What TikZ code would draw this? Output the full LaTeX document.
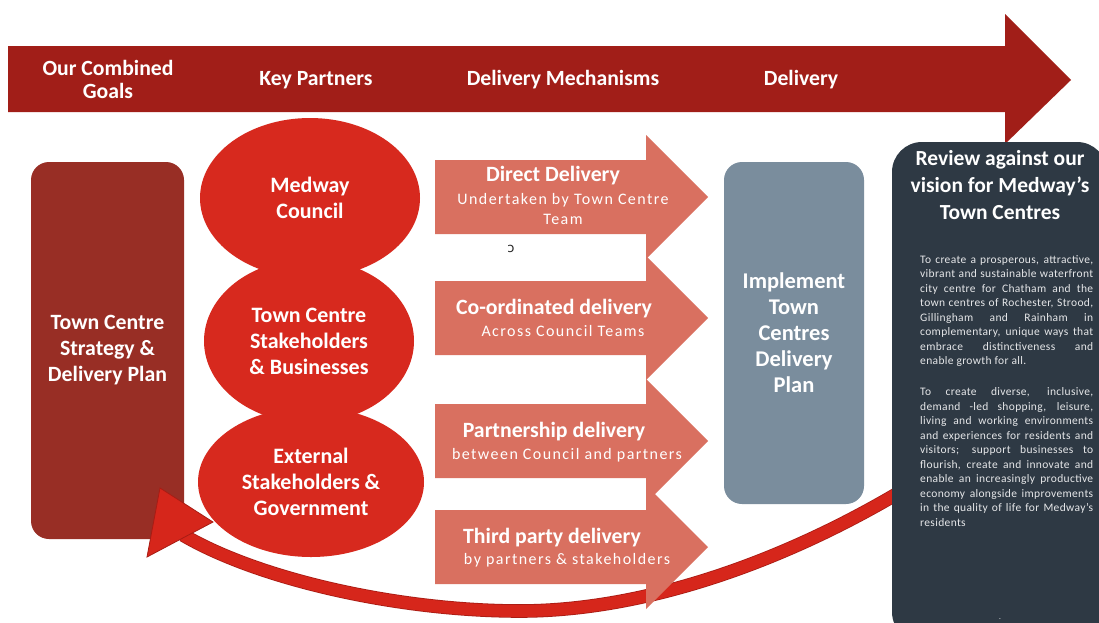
\documentclass[tikz,border=0pt]{standalone}
\usepackage{fontspec}
\setmainfont{Carlito}
\newfontfamily\spacedfont[LetterSpace=9]{Carlito}
\newfontfamily\visionfont[LetterSpace=3]{Carlito}
\newfontfamily\symbolfont{DejaVu Sans}
\usetikzlibrary{shapes.geometric, positioning}

\definecolor{bannerred}{RGB}{161,30,24}
\definecolor{goalred}{RGB}{152,46,37}
\definecolor{partnerred}{RGB}{215,41,30}
\definecolor{mechpink}{RGB}{217,112,96}
\definecolor{planblue}{RGB}{122,141,157}
\definecolor{reviewslate}{RGB}{46,57,68}
\definecolor{loopred}{RGB}{214,38,27}
\definecolor{loopedge}{RGB}{168,28,20}

% one line of the justified vision text
\newcommand{\jline}[1]{\makebox[173pt][s]{#1}}

\begin{document}
\begin{tikzpicture}[x=1pt, y=-1pt,
  header/.style={text=white, align=center, font=\fontsize{21.7}{23}\selectfont\bfseries},
  partner/.style={ellipse, fill=partnerred, inner sep=0pt, text=white, align=center,
                  font=\fontsize{22}{26}\selectfont\bfseries},
  panel/.style={rounded corners=18pt, inner sep=0pt, text=white, align=center,
                font=\fontsize{21.8}{26}\selectfont\bfseries},
  mechtitle/.style={text=white, inner sep=0pt, font=\fontsize{21.8}{24}\selectfont\bfseries},
  mechsub/.style={text=white, inner sep=0pt, align=center,
                  font=\spacedfont\fontsize{16}{20}\selectfont},
  loopband/.style={draw=loopedge, line width=0.8pt, double=loopred, double distance=12pt}]

  \fill[white] (0,0) rectangle (1099,622);
  \useasboundingbox (0,0) rectangle (1099,622);

  % banner arrow with the column headings
  \fill[bannerred] (8,46) -- (1005,46) -- (1005,14) -- (1071,80) -- (1005,144)
                   -- (1005,112) -- (8,112) -- cycle;
  \node[header] (goalshead)    at (108,79) {Our Combined\\Goals};
  \node[header] (partnerhead)  at (316,80) {Key Partners};
  \node[header] (mechhead)     at (563,80) {Delivery Mechanisms};
  \node[header] (deliveryhead) at (801,80) {Delivery};

  % goals
  \node[panel, fill=goalred, minimum width=153pt, minimum height=377pt]
       (strategy) at (107.5,350.5) {Town Centre\\Strategy \&\\Delivery Plan};

  % feedback loop back to the goals
  \coordinate (loopstart)  at (910,486);
  \coordinate (loopbottom) at (520,611);
  \coordinate (loopend)    at (183,535);
  \draw[loopband] (loopstart) .. controls (780,565) and (640,611) .. (loopbottom)
                  .. controls (400,611) and (260,580) .. (loopend);
  \filldraw[fill=loopred, draw=loopedge, line width=0.8pt]
       (147,557) -- (160,488) -- (213,522) -- cycle;

  % key partners
  \node[partner, minimum width=220pt, minimum height=160pt] (council)  at (310,198) {Medway\\Council};
  \node[partner, minimum width=210pt, minimum height=164pt] (business) at (309,341) {Town Centre\\Stakeholders\\\& Businesses};
  \node[partner, minimum width=226pt, minimum height=150pt] (external) at (311,482) {External\\Stakeholders \&\\Government};

  % delivery mechanisms
  \foreach \y in {197,318,441,547}
    \fill[mechpink] (435,\y-37) -- (646,\y-37) -- (646,\y-62) -- (708,\y)
                    -- (646,\y+62) -- (646,\y+37) -- (435,\y+37) -- cycle;

  \node[mechtitle] (direct) at (553,176) {Direct Delivery};
  \node[mechsub]   (directsub) at (563,209) {Undertaken by Town Centre\\Team};
  \node[mechtitle] (coord) at (554,309) {Co-ordinated delivery};
  \node[mechsub]   (coordsub) at (563,331) {Across Council Teams};
  \node[mechtitle] (partnership) at (554,432) {Partnership delivery};
  \node[mechsub]   (partnershipsub) at (567,455) {between Council and partners};
  \node[mechtitle] (thirdparty) at (552,538) {Third party delivery};
  \node[mechsub]   (thirdpartysub) at (567,560) {by partners \& stakeholders};
  \node[text=black!85, font=\symbolfont\fontsize{13}{14}\selectfont] (stray) at (511,249) {ɔ};

  % delivery
  \node[panel, fill=planblue, minimum width=140pt, minimum height=342pt,
        font=\fontsize{22.5}{26}\selectfont\bfseries]
       (implement) at (794,333) {Implement\\Town\\Centres\\Delivery\\Plan};

  % review
  \node[fill=reviewslate, rounded corners=30pt, inner sep=0pt,
        minimum width=215pt, minimum height=500pt] (review) at (999.5,392) {};
  \node[header, font=\fontsize{21.5}{27}\selectfont\bfseries] (reviewtitle) at (1000,185)
       {Review against our\\vision for Medway’s\\Town Centres};
  \node[anchor=north west, inner sep=0pt, align=left, text=white!88!reviewslate,
        font=\visionfont\fontsize{11.5}{14.5}\selectfont] (vision) at (920,255) {%
    \jline{To create a prosperous, attractive,}\\
    \jline{vibrant and sustainable waterfront}\\
    \jline{city centre for Chatham and the}\\
    \jline{town centres of Rochester, Strood,}\\
    \jline{Gillingham and Rainham in}\\
    \jline{complementary, unique ways that}\\
    \jline{embrace distinctiveness and}\\
    enable growth for all.\\[16.5pt]
    \jline{To create diverse, inclusive,}\\
    \jline{demand -led shopping, leisure,}\\
    \jline{living and working environments}\\
    \jline{and experiences for residents and}\\
    \jline{visitors; support businesses to}\\
    \jline{flourish, create and innovate and}\\
    \jline{enable an increasingly productive}\\
    \jline{economy alongside improvements}\\
    \jline{in the quality of life for Medway’s}\\
    residents};
  \node[anchor=base, text=white!70!reviewslate, font=\fontsize{9}{10}\selectfont]
       (stop) at (1000,619) {.};
\end{tikzpicture}
\end{document}
